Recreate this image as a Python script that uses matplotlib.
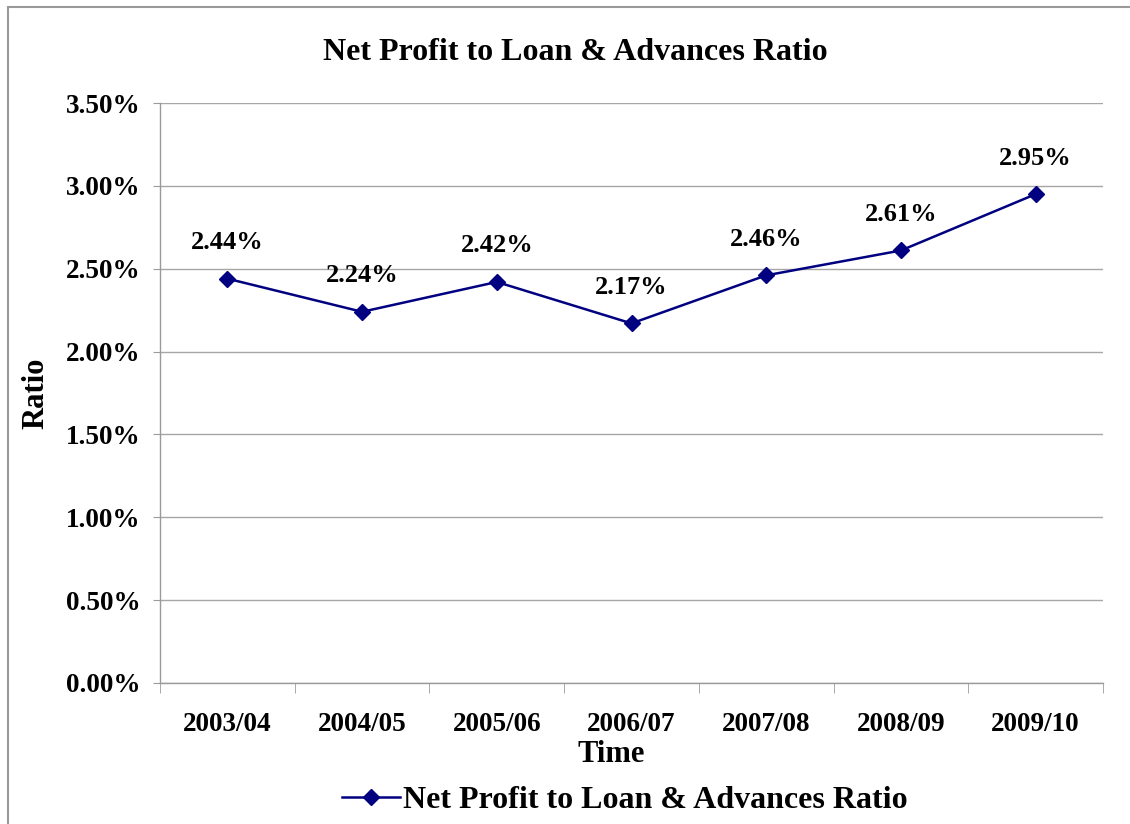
import matplotlib
matplotlib.use("Agg")
import matplotlib.pyplot as plt
from matplotlib.patches import Rectangle
from matplotlib.ticker import FuncFormatter, FixedLocator

# Datos
periodos = ['2003/04', '2004/05', '2005/06', '2006/07', '2007/08', '2008/09', '2009/10']
ratio = [2.44, 2.24, 2.42, 2.17, 2.46, 2.61, 2.95]
etiquetas = ['2.44%', '2.24%', '2.42%', '2.17%', '2.46%', '2.61%', '2.95%']
y_ticks = [0.0, 0.5, 1.0, 1.5, 2.0, 2.5, 3.0, 3.5]

plt.rcParams['font.family'] = ['Liberation Serif', 'DejaVu Serif']
plt.rcParams['font.weight'] = 'bold'

fig = plt.figure(figsize=(11.3, 8.24), dpi=100)
ax = fig.add_axes([160/1130, 1 - 683/824, 943/1130, 580/824])

# Marco exterior gris
fig.patches.append(Rectangle((8/1130, -0.05), 1.2, 1 - 7/824 + 0.05,
                             transform=fig.transFigure, fill=False,
                             edgecolor='#9a9a9a', linewidth=1.5))

x = list(range(len(periodos)))
ax.plot(x, ratio, color='#000080', linewidth=1.8, marker='D', markersize=8,
        label='Net Profit to Loan & Advances Ratio')

for xi, yi, txt in zip(x, ratio, etiquetas):
    ax.annotate(txt, (xi, yi), xytext=(0, 26), textcoords='offset points',
                ha='center', va='center', fontsize=19, fontweight='bold')

ax.set_xlim(-0.5, len(periodos) - 0.5)
ax.set_ylim(0, 3.5)
ax.set_yticks(y_ticks)
ax.yaxis.set_major_formatter(FuncFormatter(lambda v, p: f'{v:.2f}%'))
ax.set_xticks(x)
ax.set_xticklabels(periodos)
ax.xaxis.set_minor_locator(FixedLocator([i - 0.5 for i in range(len(periodos) + 1)]))

ax.tick_params(axis='x', which='major', length=0, pad=21, labelsize=19.5)
ax.tick_params(axis='x', which='minor', length=7, color='#9a9a9a', direction='out')
ax.tick_params(axis='y', length=5, color='#9a9a9a', pad=9, labelsize=19.5)
for lab in ax.get_xticklabels() + ax.get_yticklabels():
    lab.set_fontweight('bold')

ax.grid(axis='y', color='#a6a6a6', linewidth=1)
ax.set_axisbelow(True)
for s in ['top', 'right']:
    ax.spines[s].set_visible(False)
for s in ['left', 'bottom']:
    ax.spines[s].set_color('#9a9a9a')
    ax.spines[s].set_linewidth(1)

fig.text(575/1130, 1 - 52/824, 'Net Profit to Loan & Advances Ratio',
         ha='center', va='center', fontsize=23, fontweight='bold')
fig.text(611/1130, 1 - 755/824, 'Time', ha='center', va='center',
         fontsize=22, fontweight='bold')
fig.text(36/1130, 1 - 393/824, 'Ratio', ha='center', va='center',
         rotation=90, fontsize=22, fontweight='bold')

ax.legend(loc='center', bbox_to_anchor=(0.493, -0.202), bbox_transform=ax.transAxes,
          frameon=False, prop={'size': 23, 'weight': 'bold'},
          handlelength=1.8, handletextpad=0.1)

fig.savefig('out.png', dpi=100)
